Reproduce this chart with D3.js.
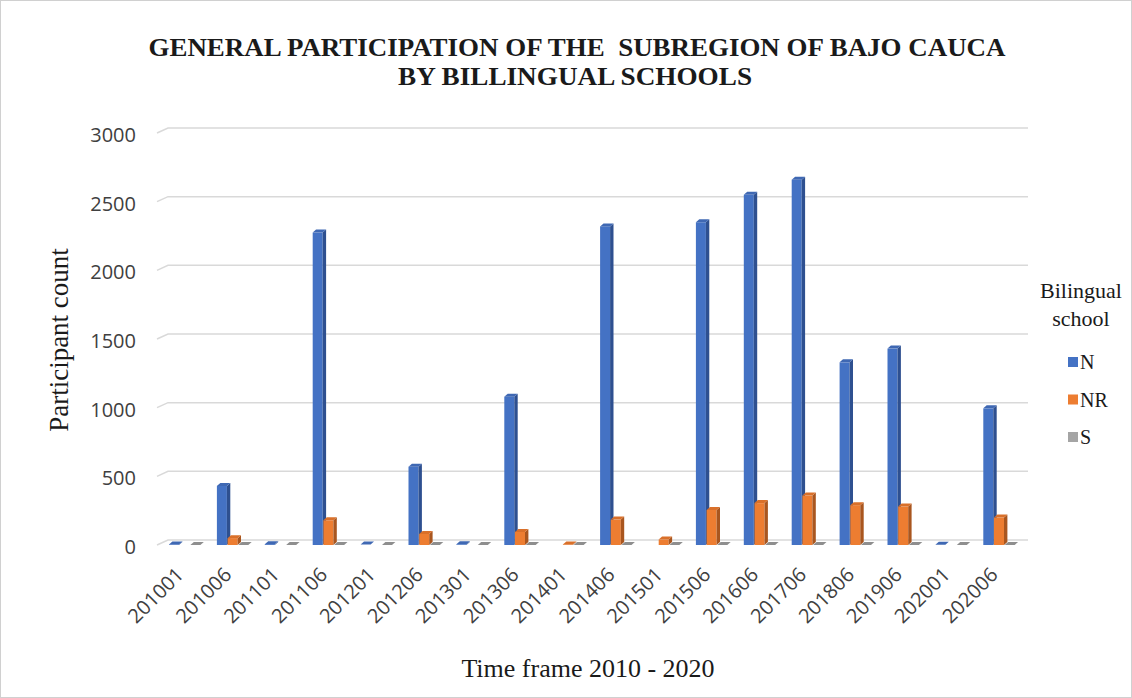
<!DOCTYPE html>
<html>
<head>
<meta charset="utf-8">
<script src="https://cdn.jsdelivr.net/npm/d3@7"></script>
<style>
  html, body { margin: 0; padding: 0; background: #ffffff; }
  svg { display: block; }
</style>
</head>
<body>
<svg id="chart" width="1132" height="698"></svg>
<script>
// Participation by exam period, split by bilingual-school flag
const categories = ["201001","201006","201101","201106","201201","201206","201301","201306",
  "201401","201406","201501","201506","201606","201706","201806","201906","202001","202006"];
const seriesNames = ["N", "NR", "S"];
const valuesN  = [4, 430, 6, 2275, 3, 570, 5, 1080, null, 2320, null, 2350, 2550, 2660, 1330, 1430, 2, 995];
const valuesNR = [null, 50, null, 180, null, 80, null, 95, 4, 185, 40, 255, 305, 360, 290, 280, null, 200];
const valuesS  = [0, 0, 0, 0, 0, 0, 0, 0, 0, 0, 0, 0, 0, 0, 0, 0, 0, 0];
const yTicks = [0, 500, 1000, 1500, 2000, 2500, 3000];

const seriesValues = { N: valuesN, NR: valuesNR, S: valuesS };
const palette = {
  N:  { front: "#4472C4", side: "#2E5090", top: "#3F68B3" },
  NR: { front: "#ED7D31", side: "#A9561F", top: "#D9702A" },
  S:  { front: "#A5A5A5", side: "#767676", top: "#8E8E8E" }
};

const svg = d3.select("#chart");
const W = 1132, H = 698;

svg.append("rect").attr("x", 0.5).attr("y", 0.5).attr("width", W - 1).attr("height", H - 1)
  .attr("fill", "#fff").attr("stroke", "#d0d0d0");

// plot geometry
const plotLeft = 157, plotRight = 1028;
const depthX = 11, depthY = 5;          // floor / wall perspective offset
const barDX = 3.4, barDY = 3;           // bar side depth

const x = d3.scaleBand().domain(categories).range([plotLeft, plotLeft + 18 * 47.9]);
const xs = d3.scaleBand().domain(seriesNames).range([12, 12 + 3 * 10.7]);
const y = d3.scaleLinear().domain([0, 3000]).range([545, 133]);

// gridlines: short slanted floor segment then horizontal back-wall line
const grid = svg.append("g").attr("class", "grid");
yTicks.forEach(t => {
  const yf = y(t);
  grid.append("path")
    .attr("d", `M${plotLeft},${yf} L${plotLeft + depthX},${yf - depthY} L${plotRight},${yf - depthY}`)
    .attr("fill", "none").attr("stroke", "#d9d9d9").attr("stroke-width", 1.5);
});

// y tick labels
const yAxis = d3.axisLeft(y).tickValues(yTicks).tickSize(0).tickPadding(0).tickFormat(d3.format("d"));
const yg = svg.append("g").attr("transform", `translate(136,2)`).call(yAxis);
yg.select(".domain").remove();
yg.selectAll("text")
  .attr("font-family", "'Open Sans', sans-serif").attr("font-size", 20)
  .attr("fill", "#404040");

// bars
const bars = svg.append("g").attr("class", "bars");
categories.forEach((c, i) => {
  seriesNames.forEach(s => {
    const v = seriesValues[s][i];
    if (v === null || v === undefined) return;
    const x0 = x(c) + xs(s);
    const w = xs.bandwidth() - 0.7;
    const yT = y(v), yB = y(0);
    const col = palette[s];
    const g = bars.append("g");
    if (yB - yT > 0.5) {
      g.append("rect").attr("x", x0).attr("y", yT).attr("width", w).attr("height", yB - yT)
        .attr("fill", col.front);
      g.append("path")
        .attr("d", `M${x0 + w},${yB} L${x0 + w + barDX},${yB - barDY} L${x0 + w + barDX},${yT - barDY} L${x0 + w},${yT} Z`)
        .attr("fill", col.side);
    }
    g.append("path")
      .attr("d", `M${x0},${yT} L${x0 + w},${yT} L${x0 + w + barDX},${yT - barDY} L${x0 + barDX},${yT - barDY} Z`)
      .attr("fill", col.top);
  });
});

// category labels, rotated
const xl = svg.append("g").attr("class", "xlabels");
categories.forEach(c => {
  const cx = x(c) + x.bandwidth() / 2 - 1;
  xl.append("text")
    .attr("transform", `translate(${cx},571) rotate(-45)`)
    .attr("text-anchor", "end").attr("dy", "0.35em")
    .attr("font-family", "'Open Sans', sans-serif").attr("font-size", 20)
    .attr("fill", "#404040").text(c);
});

// titles
const serif = "'Liberation Serif', 'Times New Roman', serif";
svg.append("text").attr("x", 577).attr("y", 56).attr("text-anchor", "middle")
  .style("white-space", "pre")
  .attr("font-family", serif).attr("font-weight", "bold").attr("font-size", 25)
  .attr("textLength", 857).attr("lengthAdjust", "spacingAndGlyphs")
  .attr("fill", "#1a1a1a")
  .text("GENERAL PARTICIPATION OF THE  SUBREGION OF BAJO CAUCA");
svg.append("text").attr("x", 575).attr("y", 85).attr("text-anchor", "middle")
  .attr("font-family", serif).attr("font-weight", "bold").attr("font-size", 25)
  .attr("textLength", 354).attr("lengthAdjust", "spacingAndGlyphs")
  .attr("fill", "#1a1a1a")
  .text("BY BILLINGUAL SCHOOLS");

svg.append("text").attr("transform", "translate(68,340) rotate(-90)")
  .attr("text-anchor", "middle")
  .attr("font-family", serif).attr("font-size", 27).attr("fill", "#1a1a1a")
  .text("Participant count");

svg.append("text").attr("x", 588).attr("y", 677).attr("text-anchor", "middle")
  .attr("font-family", serif).attr("font-size", 26).attr("fill", "#1a1a1a")
  .text("Time frame 2010 - 2020");

// legend
const lg = svg.append("g").attr("class", "legend");
lg.append("text").attr("x", 1081).attr("y", 298).attr("text-anchor", "middle")
  .attr("font-family", serif).attr("font-size", 22).attr("fill", "#1a1a1a").text("Bilingual");
lg.append("text").attr("x", 1081).attr("y", 326).attr("text-anchor", "middle")
  .attr("font-family", serif).attr("font-size", 22).attr("fill", "#1a1a1a").text("school");
const legendY = d3.scalePoint().domain(seriesNames).range([362, 437]);
seriesNames.forEach(s => {
  const yy = legendY(s);
  lg.append("rect").attr("x", 1068).attr("y", yy - 5).attr("width", 10).attr("height", 10)
    .attr("fill", palette[s].front);
  lg.append("text").attr("x", 1080).attr("y", yy).attr("dy", "0.35em")
    .attr("font-family", serif).attr("font-size", 20).attr("fill", "#1a1a1a").text(s);
});
</script>
</body>
</html>
